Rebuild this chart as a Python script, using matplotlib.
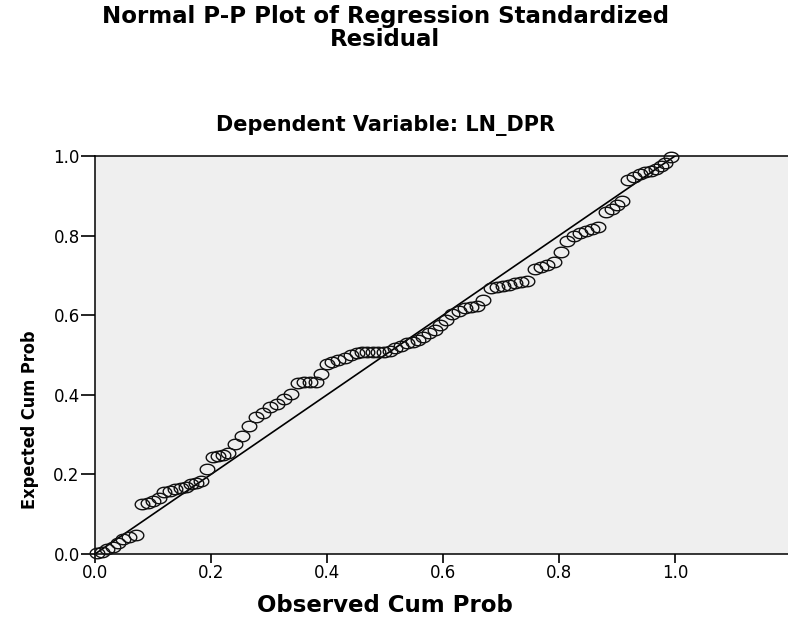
import matplotlib
matplotlib.use("Agg")
import matplotlib.pyplot as plt
import numpy as np
from matplotlib.path import Path
from matplotlib import font_manager as fm

observed_cum_prob = [
    0.003, 0.012, 0.021, 0.031, 0.040, 0.048, 0.059, 0.071, 0.081, 0.091,
    0.100, 0.110, 0.119, 0.129, 0.138, 0.148, 0.157, 0.166, 0.174, 0.183,
    0.193, 0.203, 0.212, 0.221, 0.229, 0.241, 0.253, 0.266, 0.278, 0.290,
    0.302, 0.314, 0.326, 0.338, 0.350, 0.360, 0.371, 0.381, 0.390, 0.400,
    0.409, 0.419, 0.431, 0.441, 0.452, 0.460, 0.469, 0.479, 0.488, 0.498,
    0.509, 0.517, 0.528, 0.538, 0.548, 0.557, 0.566, 0.576, 0.586, 0.595,
    0.605, 0.616, 0.628, 0.638, 0.648, 0.659, 0.669, 0.683, 0.693, 0.703,
    0.714, 0.724, 0.734, 0.745, 0.759, 0.769, 0.779, 0.791, 0.803, 0.814,
    0.826, 0.836, 0.847, 0.857, 0.867, 0.881, 0.891, 0.900, 0.909, 0.919,
    0.929, 0.940, 0.948, 0.959, 0.967, 0.976, 0.983, 0.993,
]
expected_cum_prob = [
    0.003, 0.005, 0.013, 0.018, 0.028, 0.038, 0.043, 0.048, 0.126, 0.128,
    0.133, 0.141, 0.156, 0.158, 0.163, 0.166, 0.168, 0.176, 0.178, 0.183,
    0.214, 0.244, 0.246, 0.249, 0.254, 0.276, 0.296, 0.322, 0.344, 0.354,
    0.369, 0.377, 0.389, 0.402, 0.430, 0.432, 0.432, 0.432, 0.452, 0.477,
    0.482, 0.487, 0.492, 0.500, 0.505, 0.508, 0.508, 0.508, 0.508, 0.508,
    0.510, 0.518, 0.523, 0.530, 0.533, 0.538, 0.545, 0.555, 0.563, 0.575,
    0.588, 0.603, 0.611, 0.618, 0.621, 0.623, 0.638, 0.668, 0.671, 0.673,
    0.676, 0.681, 0.683, 0.686, 0.716, 0.721, 0.726, 0.734, 0.759, 0.786,
    0.799, 0.807, 0.812, 0.817, 0.822, 0.859, 0.867, 0.877, 0.887, 0.940,
    0.947, 0.955, 0.960, 0.962, 0.967, 0.975, 0.982, 0.997,
]
ref_line = [0.0, 1.0]
tick_values = [0.0, 0.2, 0.4, 0.6, 0.8, 1.0]
tick_labels = ["0.0", "0.2", "0.4", "0.6", "0.8", "1.0"]

title_lines = ["Normal P-P Plot of Regression Standardized", "Residual"]
subtitle = "Dependent Variable: LN_DPR"
xlabel = "Observed Cum Prob"
ylabel = "Expected Cum Prob"

W, H = 788, 618
fig = plt.figure(figsize=(W / 100, H / 100), dpi=100)
left, right, top, bottom = 95, 788, 156, 554
ax = fig.add_axes([left / W, 1 - bottom / H, (right - left) / W, (bottom - top) / H])
ax.set_facecolor("#efefef")

t = np.linspace(0, 2 * np.pi, 60)
ell = Path(np.column_stack([np.cos(t), 0.72 * np.sin(t)]), closed=True)

ax.plot(ref_line, ref_line, color="black", lw=1.2, zorder=2)
ax.plot(observed_cum_prob, expected_cum_prob, linestyle="none", marker=ell,
        markersize=10.5, markerfacecolor="none", markeredgecolor="#111111",
        markeredgewidth=1.0, clip_on=False, zorder=3)

ax.set_xlim(0, (right - left) / 580)
ax.set_ylim(0, 1.0)
ax.set_xticks(tick_values)
ax.set_xticklabels(tick_labels)
ax.set_yticks(tick_values)
ax.set_yticklabels(tick_labels)

for s in ["left", "bottom", "top"]:
    ax.spines[s].set_color("black")
    ax.spines[s].set_linewidth(1.1)
ax.spines["right"].set_visible(False)

ax.tick_params(axis="y", direction="out", length=10, width=1.2, pad=1, colors="black")
ax.tick_params(axis="x", direction="out", length=6.5, width=1.2, pad=1, colors="black")
for lab in ax.get_xticklabels() + ax.get_yticklabels():
    lab.set_fontfamily("DejaVu Sans")
    lab.set_fontsize(12)

fig.text(385 / W, 1 - 16 / H, title_lines[0], ha="center", va="center",
         fontsize=16.5, fontweight="bold", family="DejaVu Sans")
fig.text(385 / W, 1 - 40 / H, title_lines[1], ha="center", va="center",
         fontsize=16.5, fontweight="bold", family="DejaVu Sans")
fig.text(385 / W, 1 - 125 / H, subtitle, ha="center", va="center",
         fontsize=15, fontweight="bold", family="DejaVu Sans")
fig.text(385 / W, 1 - 605 / H, xlabel, ha="center", va="center",
         fontsize=16.5, fontweight="bold", family="DejaVu Sans")

names = {f.name for f in fm.fontManager.ttflist}
yl_family = "Liberation Sans Narrow" if "Liberation Sans Narrow" in names else "DejaVu Sans"
fig.text(30 / W, 1 - 420 / H, ylabel, ha="center", va="center", rotation=90,
         fontsize=13, fontweight="bold", family=yl_family, fontstretch="condensed")

fig.savefig("out.png", dpi=100)
